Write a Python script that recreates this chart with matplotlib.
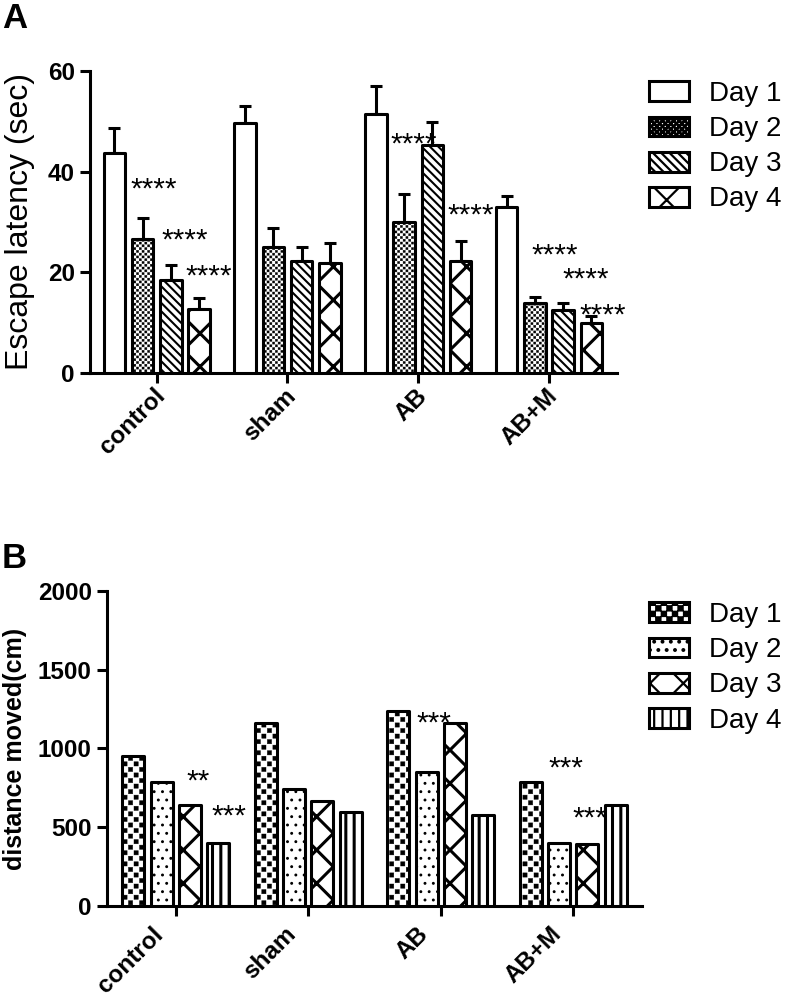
"""
Morris water maze results: escape latency (A) and distance moved (B)
per treatment group over four training days, GraphPad-style hatched bars.
"""

import numpy as np
import matplotlib
matplotlib.use("Agg")
import matplotlib.pyplot as plt
import matplotlib.transforms as mtrans
from matplotlib import hatch as mhatch
from matplotlib.path import Path

GROUPS = ["control", "sham", "AB", "AB+M"]
DAYS = ["Day 1", "Day 2", "Day 3", "Day 4"]

# Panel A: escape latency (sec), mean per day, and the upper SEM
LAT_DAY1 = [43.7, 49.7, 51.5, 33.0]
LAT_DAY2 = [26.6, 25.0, 30.0, 13.9]
LAT_DAY3 = [18.5, 22.3, 45.3, 12.5]
LAT_DAY4 = [12.7, 21.8, 22.3, 10.0]
LAT_ERR1 = [5.0, 3.4, 5.5, 2.2]
LAT_ERR2 = [4.2, 3.8, 5.6, 1.2]
LAT_ERR3 = [3.0, 2.8, 4.6, 1.4]
LAT_ERR4 = [2.2, 4.0, 3.9, 1.3]

# Panel B: distance moved (cm)
DIST_DAY1 = [955, 1160, 1235, 785]
DIST_DAY2 = [790, 740, 850, 400]
DIST_DAY3 = [640, 665, 1160, 395]
DIST_DAY4 = [400, 595, 580, 640]

# significance marks: group, day, label, height in data units
SIG_A_GROUP = [0, 0, 0, 2, 2, 3, 3, 3]
SIG_A_DAY = [1, 2, 3, 1, 3, 1, 2, 3]
SIG_A_TEXT = ["****"] * 8
SIG_A_Y = [36.4, 26.4, 19.1, 45.3, 31.2, 23.4, 18.5, 11.5]
SIG_A_DX = [0.085, 0.106, 0.074, 0.07, 0.074, 0.154, 0.175, 0.089]

SIG_B_GROUP = [0, 0, 2, 3, 3]
SIG_B_DAY = [2, 3, 1, 1, 2]
SIG_B_TEXT = ["**", "***", "***", "***", "***"]
SIG_B_Y = [791, 569, 1156, 870, 553]
SIG_B_DX = [0.062, 0.08, 0.055, 0.055, 0.017]

LW = 2.2          # bar edges, spines, error bars (pt)
FONT = "Liberation Sans"


class CheckerHatch(mhatch.HatchPatternBase):
    """Filled checkerboard hatch; 'O' count * density = cells per tile."""

    def __init__(self, hatch, density):
        self.n = int(hatch.count("O") * density)
        self.n -= self.n % 2
        self.num_vertices = (self.n * self.n // 2) * 5 if self.n else 0

    def set_vertices_and_codes(self, vertices, codes):
        s = 1.0 / self.n
        pad = 0.12 * s
        sq = np.array([[pad, pad], [s - pad, pad], [s - pad, s - pad],
                       [pad, s - pad], [pad, pad]])
        sq_codes = [Path.MOVETO, Path.LINETO, Path.LINETO, Path.LINETO,
                    Path.CLOSEPOLY]
        k = 0
        for i in range(self.n):
            for j in range(self.n):
                if (i + j) % 2:
                    continue
                vertices[k:k + 5] = sq + [i * s, j * s]
                codes[k:k + 5] = sq_codes
                k += 5


# 'O' (large circles) is not used here, so it becomes the checkerboard
mhatch._hatch_types = [t for t in mhatch._hatch_types
                       if t is not mhatch.LargeCircles] + [CheckerHatch]

plt.rcParams["font.family"] = [FONT, "DejaVu Sans"]
plt.rcParams["hatch.linewidth"] = 1.6


def style_axis(ax, ticks, xpad, shift_px):
    for side in ["top", "right"]:
        ax.spines[side].set_visible(False)
    for side in ["left", "bottom"]:
        ax.spines[side].set_linewidth(LW)
    ax.tick_params(width=LW, length=7, labelsize=17.5, pad=4)
    ax.tick_params(axis="x", pad=xpad)
    ax.set_yticks(ticks)
    ax.set_yticklabels([str(t) for t in ticks], fontweight="bold")
    ax.set_xticks(np.arange(len(GROUPS)))
    ax.set_xticklabels(GROUPS, rotation=45, ha="right", rotation_mode="anchor",
                       fontweight="bold", fontsize=17.5)
    shift = mtrans.ScaledTranslation(shift_px / 100, 0, fig.dpi_scale_trans)
    for lab in ax.get_xticklabels():
        lab.set_transform(lab.get_transform() + shift)


def draw_bars(ax, days, hatches, hatch_lws, step, width, errs=None):
    x = np.arange(len(GROUPS))
    offsets = (np.arange(4) - 1.5) * step
    for d, vals in enumerate(days):
        bars = ax.bar(x + offsets[d], vals, width, facecolor="white",
                      edgecolor="black", linewidth=LW, hatch=hatches[d],
                      label=DAYS[d], zorder=3, joinstyle="round")
        for b in bars:
            if hasattr(b, "set_hatch_linewidth"):
                b.set_hatch_linewidth(hatch_lws[d])
        if errs is not None:
            ax.errorbar(x + offsets[d], vals,
                        yerr=[np.zeros(len(vals)), errs[d]], fmt="none",
                        ecolor="black", elinewidth=LW, capsize=4,
                        capthick=LW, zorder=2)
    return offsets


def draw_sig(ax, offsets, groups, days, texts, ys, dxs):
    for g, d, t, y, dx in zip(groups, days, texts, ys, dxs):
        ax.text(g + offsets[d] + dx, y, t, ha="center", va="center",
                fontsize=21.5, zorder=1)


def add_legend(ax, top_px):
    handles, labels = ax.get_legend_handles_labels()
    fig.legend(handles, labels, loc="upper left",
               bbox_to_anchor=(649 / 787, 1 - top_px / 997),
               frameon=False, fontsize=20, handlelength=1.44,
               handleheight=0.72, handletextpad=0.72, labelspacing=0.33,
               borderpad=0, borderaxespad=0)


fig = plt.figure(figsize=(7.87, 9.97), dpi=100)

# --- Panel A ----------------------------------------------------------------
axA = fig.add_axes([0.1144, 0.6259, 0.6696, 0.3029])
offA = draw_bars(axA, [LAT_DAY1, LAT_DAY2, LAT_DAY3, LAT_DAY4],
                 ["", "OOOOOO", "\\\\\\\\", "x"], [1.0, 0.3, 1.5, 2.2],
                 step=0.216, width=0.164,
                 errs=[LAT_ERR1, LAT_ERR2, LAT_ERR3, LAT_ERR4])
draw_sig(axA, offA, SIG_A_GROUP, SIG_A_DAY, SIG_A_TEXT, SIG_A_Y, SIG_A_DX)
axA.set_xlim(-0.51, 3.52)
axA.set_ylim(0, 60)
style_axis(axA, [0, 20, 40, 60], xpad=1, shift_px=-3)
axA.set_ylabel("Escape latency (sec)", fontsize=23, va="center")
axA.yaxis.set_label_coords(-0.133, 0.5)
add_legend(axA, 81)

# --- Panel B ----------------------------------------------------------------
axB = fig.add_axes([0.136, 0.0913, 0.6798, 0.316])
offB = draw_bars(axB, [DIST_DAY1, DIST_DAY2, DIST_DAY3, DIST_DAY4],
                 ["OOO", "..", "x", "||"], [0.3, 0.9, 2.2, 2.2],
                 step=0.214, width=0.166)
draw_sig(axB, offB, SIG_B_GROUP, SIG_B_DAY, SIG_B_TEXT, SIG_B_Y, SIG_B_DX)
axB.set_xlim(-0.52, 3.52)
axB.set_ylim(0, 2000)
style_axis(axB, [0, 500, 1000, 1500, 2000], xpad=5, shift_px=-24)
axB.set_ylabel("distance moved(cm)", fontsize=18, fontweight="bold",
               va="center")
axB.yaxis.set_label_coords(-0.172, 0.5)
add_legend(axB, 602)

fig.text(2 / 787, 1 - 2 / 997, "A", fontsize=25, fontweight="bold",
         ha="left", va="top")
fig.text(2 / 787, 1 - 542 / 997, "B", fontsize=25, fontweight="bold",
         ha="left", va="top")

fig.savefig("out.png", dpi=100)
